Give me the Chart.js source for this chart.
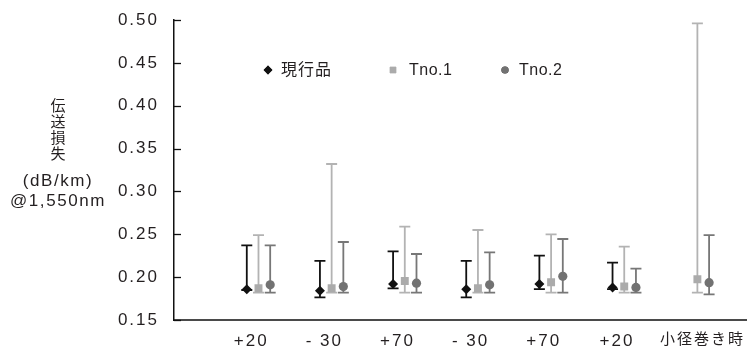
<!DOCTYPE html>
<html>
<head>
<meta charset="utf-8">
<script src="https://cdn.jsdelivr.net/npm/chart.js@4/dist/chart.umd.min.js"></script>
<style>
  html, body { margin: 0; padding: 0; background: #fff; }
  #wrap { width: 752px; height: 350px; }
</style>
</head>
<body>
<div id="wrap"><canvas id="c" width="752" height="350"></canvas></div>
<script>
// Test conditions along the x axis
const categories = ['+20', '- 30', '+70', '- 30', '+70', '+20', '小径巻き時'];
const seriesNames = ['現行品', 'Tno.1', 'Tno.2'];

// 現行品: average, max and min loss per condition
const currentMean = [0.186, 0.184, 0.192, 0.186, 0.192, 0.188, null];
const currentMax  = [0.237, 0.219, 0.230, 0.219, 0.225, 0.217, null];
const currentMin  = [0.185, 0.1765, 0.187, 0.1765, 0.186, 0.186, null];

// Tno.1
const tno1Mean = [0.187, 0.187, 0.1955, 0.187, 0.194, 0.189, 0.1975];
const tno1Max  = [0.249, 0.332, 0.259, 0.255, 0.250, 0.2355, 0.496];
const tno1Min  = [0.182, 0.182, 0.182, 0.182, 0.182, 0.182, 0.182];

// Tno.2
const tno2Mean = [0.191, 0.189, 0.193, 0.191, 0.201, 0.188, 0.1935];
const tno2Max  = [0.237, 0.241, 0.227, 0.229, 0.2445, 0.210, 0.249];
const tno2Min  = [0.182, 0.182, 0.182, 0.182, 0.182, 0.182, 0.180];

// Value axis ticks
const yTicks = [0.15, 0.20, 0.25, 0.30, 0.35, 0.40, 0.45, 0.50];

// Axis title lines
const yTitleLines = ['伝', '送', '損', '失', '(dB/km)', '@1,550nm'];

const FONT = "'Liberation Sans', Arial, 'Noto Sans CJK JP', sans-serif";
const TEXT = '#231f20';
const isCJK = (s) => /[^\x00-\x7f]/.test(s);

const styles = [
  { color: '#111111', bar: '#111111', shape: 'rectRot', r: 5,   shift: -0.16 },
  { color: '#ababab', bar: '#b3b3b3', shape: 'rect',    r: 5.6, shift: 0 },
  { color: '#727272', bar: '#777777', shape: 'circle',  r: 4.6, shift: 0.16 }
];
const means = [currentMean, tno1Mean, tno2Mean];
const maxs = [currentMax, tno1Max, tno2Max];
const mins = [currentMin, tno1Min, tno2Min];

const datasets = seriesNames.map((name, s) => ({
  label: name,
  data: means[s].map((v, i) => ({ x: i + 1 + styles[s].shift, y: v })),
  errMax: maxs[s],
  errMin: mins[s],
  barColor: styles[s].bar,
  pointStyle: styles[s].shape,
  pointRadius: styles[s].r,
  pointHoverRadius: styles[s].r,
  backgroundColor: styles[s].color,
  borderColor: styles[s].color,
  borderWidth: 0,
  showLine: false
}));

// Spaced-out lettering for the axis labels
const spacing = {
  id: 'spacing',
  beforeLayout(chart) { chart.ctx.letterSpacing = '2px'; },
  beforeDraw(chart) { chart.ctx.letterSpacing = '2px'; }
};

// Min-max whiskers behind each marker
const whiskers = {
  id: 'whiskers',
  beforeDatasetsDraw(chart) {
    const { ctx, scales: { x, y } } = chart;
    ctx.save();
    chart.data.datasets.forEach((ds) => {
      ctx.strokeStyle = ds.barColor;
      ctx.lineWidth = 1.8;
      ds.data.forEach((p, i) => {
        if (p.y == null) return;
        const px = x.getPixelForValue(p.x);
        const top = y.getPixelForValue(ds.errMax[i]);
        const bot = y.getPixelForValue(ds.errMin[i]);
        const cap = 5.5;
        ctx.beginPath();
        ctx.moveTo(px, top); ctx.lineTo(px, bot);
        ctx.moveTo(px - cap, top); ctx.lineTo(px + cap, top);
        ctx.moveTo(px - cap, bot); ctx.lineTo(px + cap, bot);
        ctx.stroke();
      });
    });
    ctx.restore();
  }
};

// Inward tick marks on the value axis, axis title and in-plot legend
const decorations = {
  id: 'decorations',
  afterDraw(chart) {
    const { ctx, chartArea: area, scales: { y } } = chart;
    ctx.save();
    ctx.strokeStyle = '#111';
    ctx.lineWidth = 1.3;
    y.ticks.forEach((t) => {
      const py = Math.round(y.getPixelForValue(t.value)) + 0.5;
      ctx.beginPath();
      ctx.moveTo(area.left, py);
      ctx.lineTo(area.left + 7, py);
      ctx.stroke();
    });

    // stacked axis title
    ctx.fillStyle = TEXT;
    ctx.textAlign = 'center';
    ctx.textBaseline = 'middle';
    let ty = 107;
    yTitleLines.forEach((line) => {
      const cjk = isCJK(line);
      ctx.letterSpacing = cjk ? '0px' : '1.6px';
      ctx.font = (cjk ? '15px ' : '17px ') + FONT;
      if (!cjk && ty < 181) ty = 181;
      ctx.fillText(line, 58, ty);
      ty += cjk ? 16 : 20;
    });

    // legend
    const legendY = 70;
    const markX = [268, 393, 505];
    const textX = [281, 409, 519];
    chart.data.datasets.forEach((ds, s) => {
      Chart.helpers.drawPoint(ctx, {
        pointStyle: ds.pointStyle,
        radius: s === 2 ? 3.6 : 4.4,
        rotation: 0,
        borderWidth: 0
      }, markX[s], legendY);
      ctx.fillStyle = ds.backgroundColor;
      ctx.fill();
      ctx.fillStyle = TEXT;
      ctx.textAlign = 'left';
      const cjk = isCJK(ds.label);
      ctx.letterSpacing = cjk ? '1px' : '0.5px';
      ctx.font = '16px ' + FONT;
      ctx.fillText(ds.label, textX[s], legendY + 1);
    });
    ctx.restore();
  }
};

// Category labels sit a little left of each group; the last one a little right
const labelNudge = (i) => (i === categories.length - 1 ? 0.07 : -0.1);

new Chart(document.getElementById('c'), {
  type: 'scatter',
  data: { datasets },
  options: {
    responsive: false,
    devicePixelRatio: 1,
    animation: false,
    events: [],
    layout: { padding: { top: 20, right: 2, bottom: 0, left: 0 } },
    plugins: { legend: { display: false }, tooltip: { enabled: false } },
    scales: {
      x: {
        type: 'linear',
        min: -0.155,
        max: 7.67,
        afterFit(s) { s.height = 30; s.paddingLeft = 0; s.paddingRight = 0; },
        afterBuildTicks(s) {
          s.ticks = categories.map((c, i) => ({ value: i + 1 + labelNudge(i) }));
        },
        grid: { display: false, drawTicks: false },
        border: { display: true, color: '#4a4a4a', width: 2 },
        ticks: {
          padding: 11,
          maxRotation: 0,
          autoSkip: false,
          color: TEXT,
          font: (c) => ({
            family: FONT,
            size: isCJK(categories[c.index] || '') ? 15 : 17
          }),
          callback: (v) => categories[Math.round(v) - 1] ?? ''
        }
      },
      y: {
        min: 0.15,
        max: 0.50,
        afterFit(s) { s.width = 174; s.paddingTop = 0; s.paddingBottom = 0; },
        afterBuildTicks(s) { s.ticks = yTicks.map((v) => ({ value: v })); },
        grid: { display: false, drawTicks: false },
        border: { display: true, color: '#111', width: 1.5 },
        ticks: {
          padding: 15,
          color: TEXT,
          font: { family: FONT, size: 17 },
          callback: (v) => Number(v).toFixed(2)
        }
      }
    }
  },
  plugins: [spacing, whiskers, decorations]
});
</script>
</body>
</html>
